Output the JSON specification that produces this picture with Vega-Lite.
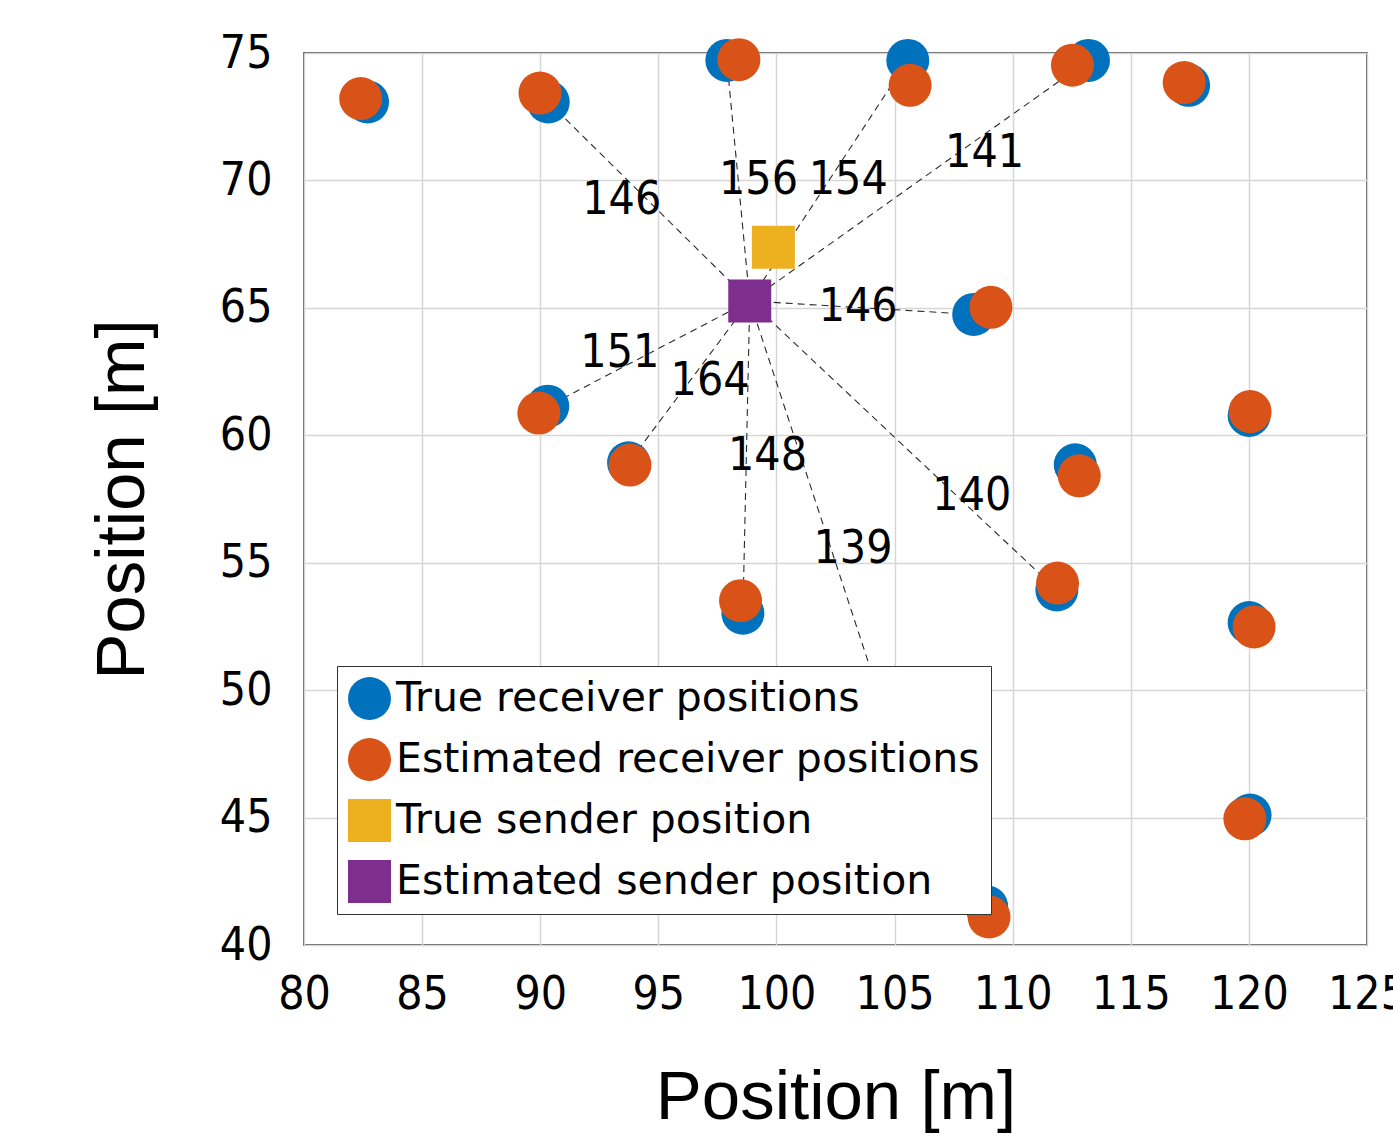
{
  "$schema": "https://vega.github.io/schema/vega-lite/v6.json",
  "width": 1063,
  "height": 892,
  "autosize": {"type": "none"},
  "padding": {"left": 304, "top": 53, "right": 26, "bottom": 193},
  "background": "white",
  "config": {
    "view": {"stroke": "#262626", "strokeWidth": 1.5},
    "axis": {
      "grid": true,
      "gridColor": "#d6d6d6",
      "gridWidth": 1.5,
      "domain": false,
      "ticks": false,
      "tickSize": 0,
      "labelOverlap": false,
      "labelFlush": false,
      "labelBound": false,
      "labelFont": "DejaVu Sans Condensed, sans-serif",
      "labelFontSize": 46,
      "labelColor": "black",
      "titleFont": "Liberation Sans, sans-serif",
      "titleFontSize": 69,
      "titleFontWeight": "normal",
      "titleColor": "black"
    },
    "legend": {"symbolStrokeWidth": 0, "symbolOpacity": 1, "labelColor": "black"}
  },
  "datasets": {
    "points": [
      {"x": 82.69, "y": 73.08, "type": "True receiver positions"},
      {"x": 90.34, "y": 73.08, "type": "True receiver positions"},
      {"x": 97.9, "y": 74.71, "type": "True receiver positions"},
      {"x": 105.56, "y": 74.71, "type": "True receiver positions"},
      {"x": 113.21, "y": 74.71, "type": "True receiver positions"},
      {"x": 117.45, "y": 73.73, "type": "True receiver positions"},
      {"x": 108.35, "y": 64.74, "type": "True receiver positions"},
      {"x": 90.32, "y": 61.14, "type": "True receiver positions"},
      {"x": 93.74, "y": 58.92, "type": "True receiver positions"},
      {"x": 98.58, "y": 53.02, "type": "True receiver positions"},
      {"x": 111.87, "y": 53.93, "type": "True receiver positions"},
      {"x": 112.65, "y": 58.84, "type": "True receiver positions"},
      {"x": 120.01, "y": 60.78, "type": "True receiver positions"},
      {"x": 120.01, "y": 52.65, "type": "True receiver positions"},
      {"x": 120.05, "y": 45.1, "type": "True receiver positions"},
      {"x": 108.9, "y": 41.5, "type": "True receiver positions"},
      {"x": 82.4, "y": 73.21, "type": "Estimated receiver positions"},
      {"x": 89.99, "y": 73.43, "type": "Estimated receiver positions"},
      {"x": 98.41, "y": 74.74, "type": "Estimated receiver positions"},
      {"x": 105.66, "y": 73.73, "type": "Estimated receiver positions"},
      {"x": 112.53, "y": 74.52, "type": "Estimated receiver positions"},
      {"x": 117.26, "y": 73.84, "type": "Estimated receiver positions"},
      {"x": 109.08, "y": 65.02, "type": "Estimated receiver positions"},
      {"x": 89.94, "y": 60.87, "type": "Estimated receiver positions"},
      {"x": 93.8, "y": 58.83, "type": "Estimated receiver positions"},
      {"x": 98.48, "y": 53.51, "type": "Estimated receiver positions"},
      {"x": 111.9, "y": 54.2, "type": "Estimated receiver positions"},
      {"x": 112.82, "y": 58.41, "type": "Estimated receiver positions"},
      {"x": 120.05, "y": 60.93, "type": "Estimated receiver positions"},
      {"x": 120.22, "y": 52.48, "type": "Estimated receiver positions"},
      {"x": 119.83, "y": 44.95, "type": "Estimated receiver positions"},
      {"x": 109.0, "y": 41.1, "type": "Estimated receiver positions"},
      {"x": 99.87, "y": 67.38, "type": "True sender position"},
      {"x": 98.87, "y": 65.27, "type": "Estimated sender position"}
    ],
    "links": [
      {"x": 98.87, "y": 65.27, "x2": 90.34, "y2": 73.08},
      {"x": 98.87, "y": 65.27, "x2": 97.9, "y2": 74.71},
      {"x": 98.87, "y": 65.27, "x2": 105.56, "y2": 74.71},
      {"x": 98.87, "y": 65.27, "x2": 113.21, "y2": 74.71},
      {"x": 98.87, "y": 65.27, "x2": 108.35, "y2": 64.74},
      {"x": 98.87, "y": 65.27, "x2": 90.32, "y2": 61.14},
      {"x": 98.87, "y": 65.27, "x2": 93.74, "y2": 58.92},
      {"x": 98.87, "y": 65.27, "x2": 98.58, "y2": 53.02},
      {"x": 98.87, "y": 65.27, "x2": 106.4, "y2": 44.0},
      {"x": 98.87, "y": 65.27, "x2": 111.87, "y2": 53.93}
    ],
    "labels": [
      {"x": 93.45, "y": 69.22, "label": "146"},
      {"x": 99.24, "y": 70.01, "label": "156"},
      {"x": 103.04, "y": 70.03, "label": "154"},
      {"x": 108.81, "y": 71.07, "label": "141"},
      {"x": 103.46, "y": 65.02, "label": "146"},
      {"x": 93.37, "y": 63.24, "label": "151"},
      {"x": 97.19, "y": 62.13, "label": "164"},
      {"x": 99.62, "y": 59.19, "label": "148"},
      {"x": 103.24, "y": 55.54, "label": "139"},
      {"x": 108.27, "y": 57.61, "label": "140"}
    ]
  },
  "encoding": {
    "x": {
      "field": "x",
      "type": "quantitative",
      "scale": {"domain": [80, 125], "nice": false, "zero": false},
      "axis": {"values": [80, 85, 90, 95, 100, 105, 110, 115, 120, 125], "title": "Position [m]", "labelPadding": 27, "titlePadding": 46}
    },
    "y": {
      "field": "y",
      "type": "quantitative",
      "scale": {"domain": [40, 75], "nice": false, "zero": false},
      "axis": {"values": [40, 45, 50, 55, 60, 65, 70, 75], "title": "Position [m]", "labelPadding": 32, "titlePadding": 62}
    }
  },
  "layer": [
    {
      "data": {"name": "links"},
      "mark": {"type": "rule", "strokeDash": [7, 5], "strokeWidth": 1.1, "color": "#2a2a2a"},
      "encoding": {"x2": {"field": "x2"}, "y2": {"field": "y2"}}
    },
    {
      "data": {"name": "points"},
      "mark": {"type": "point", "filled": true, "size": 1849, "opacity": 1, "strokeWidth": 0},
      "encoding": {
        "color": {
          "field": "type",
          "type": "nominal",
          "scale": {
            "domain": ["True receiver positions", "Estimated receiver positions", "True sender position", "Estimated sender position"],
            "range": ["#0072BD", "#D95319", "#EDB120", "#7E2F8E"]
          },
          "legend": {"title": null, "orient": "none", "legendX": 33, "legendY": 613, "fillColor": "white", "strokeColor": "#333333", "padding": 11, "symbolSize": 1849, "labelFontSize": 41, "labelFont": "DejaVu Sans, sans-serif", "labelOffset": 5, "rowPadding": 18, "labelLimit": 1000}
        },
        "shape": {
          "field": "type",
          "type": "nominal",
          "scale": {
            "domain": ["True receiver positions", "Estimated receiver positions", "True sender position", "Estimated sender position"],
            "range": ["circle", "circle", "square", "square"]
          },
          "legend": {"title": null, "orient": "none", "legendX": 33, "legendY": 613, "fillColor": "white", "strokeColor": "#333333", "padding": 11, "symbolSize": 1849, "labelFontSize": 41, "labelFont": "DejaVu Sans, sans-serif", "labelOffset": 5, "rowPadding": 18, "labelLimit": 1000}
        }
      }
    },
    {
      "data": {"name": "labels"},
      "mark": {"type": "text", "font": "DejaVu Sans Condensed, sans-serif", "fontSize": 46, "color": "black", "align": "center", "baseline": "middle"},
      "encoding": {"text": {"field": "label"}}
    }
  ]
}
